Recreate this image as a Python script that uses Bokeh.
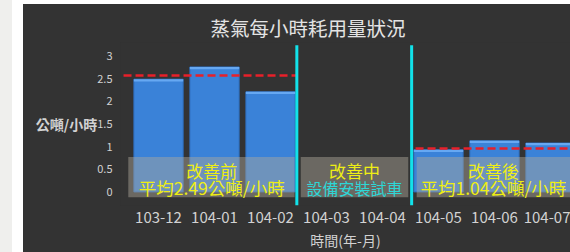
from bokeh.plotting import figure
from bokeh.models import ColumnDataSource, Range1d, FixedTicker, NumeralTickFormatter, Title, Spacer
from bokeh.layouts import row, column
from bokeh.core.properties import value
from bokeh.embed import file_html
from bokeh.resources import INLINE

# ---- data ----
months = ["103-12", "104-01", "104-02", "104-03", "104-04", "104-05", "104-06", "104-07"]
usage = [2.49, 2.76, 2.21, 0, 0, 0.93, 1.13, 1.08]
y_ticks = [0, 0.5, 1, 1.5, 2, 2.5, 3]
avg_levels = [2.57, 0.96]
phase_titles = ["改善前", "改善中", "改善後"]
phase_notes = ["平均2.49公噸/小時", "設備安裝試車", "平均1.04公噸/小時"]

FONT = "Noto Sans CJK TC"
BG = "#333333"

xs = [i for i, v in enumerate(usage) if v > 0]
vals = [v for v in usage if v > 0]
src = ColumnDataSource(dict(x=xs, top=vals, hl=[v - 0.05 for v in vals]))

p = figure(width=547, height=248, output_backend="svg", toolbar_location=None,
           x_range=Range1d(-0.679, 7.357), y_range=Range1d(-0.3, 3.3),
           min_border_left=97, min_border_right=0, min_border_top=38, min_border_bottom=42,
           background_fill_color=BG, border_fill_color=BG, outline_line_color=None,
           styles={"background-color": BG})

p.add_layout(Title(text="蒸氣每小時耗用量狀況", align="left", offset=90, standoff=1,
                   text_font=FONT, text_font_size="19.5px", text_font_style="normal",
                   text_color="#e4e4e4"), "above")

# bars
p.vbar(x="x", top="top", bottom=0, width=0.88, source=src,
       fill_color="#3a82d8", line_color="#2d6cba", line_width=1)
p.vbar(x="x", top="top", bottom="hl", width=0.88, source=src,
       fill_color="#66a8f2", line_color=None)

# phase boxes
p.quad(left=[-0.54, 2.54, 4.61], right=[2.43, 4.46, 7.6], top=0.77, bottom=-0.12,
       fill_color="#b0a89c", fill_alpha=0.45, line_color=None)

# average lines
p.segment(x0=[-0.625, 4.59], x1=[2.46, 7.6], y0=avg_levels, y1=avg_levels,
          line_color="#e8202a", line_width=2.5, line_dash="8 4")

# phase separators
p.segment(x0=[2.47, 4.52], x1=[2.47, 4.52], y0=-0.3, y1=3.24,
          line_color="#12e2ea", line_width=3)

# phase texts
p.text(x=[0.95, 3.5, 5.98], y=[0.47] * 3, text=phase_titles,
       text_align="center", text_baseline="middle", text_color="#eeee14",
       text_font=value(FONT), text_font_size="17px")
p.text(x=[0.95, 3.5, 5.98], y=[0.09] * 3, text=phase_notes,
       text_align="center", text_baseline="middle",
       text_color=["#eeee14", "#2ed6d6", "#eeee14"],
       text_font=value(FONT), text_font_size=["17.5px", "16px", "17.5px"])

# axes
p.xgrid.visible = False
p.ygrid.visible = False
for ax in (p.xaxis[0], p.yaxis[0]):
    ax.axis_line_color = None
    ax.major_tick_line_color = None
    ax.minor_tick_line_color = None
    ax.major_label_text_font = FONT
    ax.major_label_text_color = "#d2d2d2"
    ax.axis_label_text_font = FONT
    ax.axis_label_text_font_style = "normal"
    ax.axis_label_text_color = "#d2d2d2"

p.xaxis.ticker = FixedTicker(ticks=list(range(len(months))))
p.xaxis.major_label_overrides = {i: m for i, m in enumerate(months)}
p.xaxis.major_label_text_font_size = "15px"
p.xaxis.major_label_standoff = 0
p.xaxis.axis_label = "時間(年-月)"
p.xaxis.axis_label_text_font_size = "14px"
p.xaxis.axis_label_standoff = 4

p.yaxis.ticker = FixedTicker(ticks=y_ticks)
p.yaxis.formatter = NumeralTickFormatter(format="0.[0]")
p.yaxis.major_label_text_font_size = "11px"
p.yaxis.major_label_standoff = 2
p.yaxis.axis_label = "公噸/小時"
p.yaxis.axis_label_orientation = "horizontal"
p.yaxis.axis_label_text_font_size = "14px"
p.yaxis.axis_label_text_font_style = "bold"
p.yaxis.axis_label_standoff = -3

layout = row(Spacer(width=12, height=252, styles={"background-color": "#efefed"}),
             Spacer(width=11, height=252),
             column(Spacer(width=547, height=4), p))

open("out.html", "w").write(file_html(layout, INLINE))
